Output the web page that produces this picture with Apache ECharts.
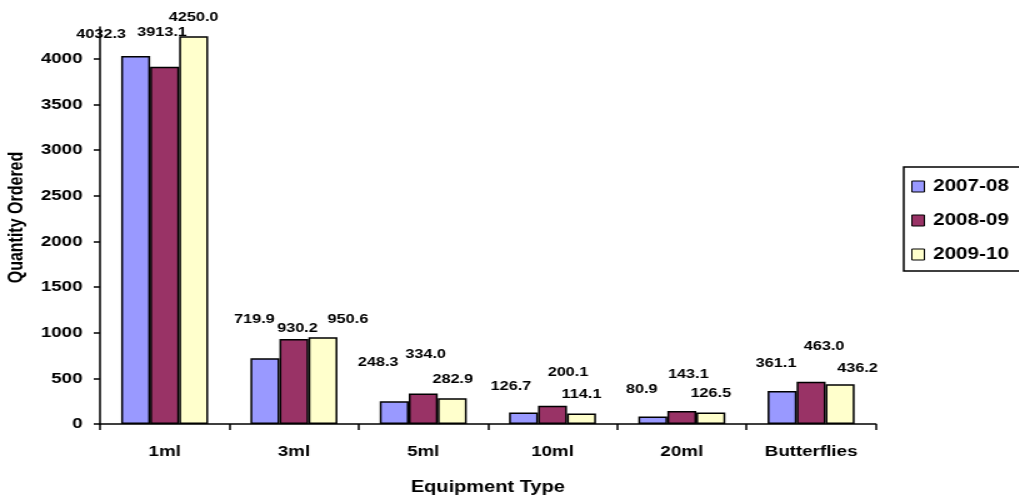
<!DOCTYPE html>
<html>
<head>
<meta charset="utf-8">
<script src="https://cdn.jsdelivr.net/npm/echarts@6/dist/echarts.min.js"></script>
<style>
  html, body { margin: 0; padding: 0; background: #fff; overflow: hidden; }
  /* chart is laid out narrower and widened, giving the broad lettering of the layout */
  #chart { width: 815.2px; height: 503px; transform: scaleX(1.25); transform-origin: 0 0; }
</style>
</head>
<body>
<div id="chart"></div>
<script>
// Equipment types on the category axis
const categories = ['1ml', '3ml', '5ml', '10ml', '20ml', 'Butterflies'];

// Quantity ordered per financial year
const seriesNames = ['2007-08', '2008-09', '2009-10'];
const values0708 = [4032.3, 719.9, 248.3, 126.7, 80.9, 361.1];
const values0809 = [3913.1, 930.2, 334.0, 200.1, 143.1, 463.0];
const values0910 = [4250.0, 950.6, 282.9, 114.1, 126.5, 436.2];

// Y axis tick values
const yTicks = [0, 500, 1000, 1500, 2000, 2500, 3000, 3500, 4000];

// Label placement: [horizontal shift, height above bar top] in px
const labelNudge0708 = [[-27.6, 22], [-8.4, 39], [-12.8, 39], [-10, 26], [-8.8, 27], [-4.8, 28]];
const labelNudge0809 = [[-2, 34], [2.8, 11], [2, 39], [12.4, 33], [5.2, 37], [10.4, 35]];
const labelNudge0910 = [[0, 19], [20, 18], [0.4, 19], [0, 19], [0, 19], [14, 16]];

const FONT = '"Liberation Sans", Arial, sans-serif';
const colors = ['#9999FF', '#993366', '#FFFFCC'];

function makeSeries(name, values, nudge, color) {
  return {
    name: name,
    type: 'bar',
    barWidth: 23.2,
    barGap: '0%',
    itemStyle: { color: color, borderColor: '#000', borderWidth: 1.5 },
    label: {
      show: true,
      position: 'top',
      distance: 0,
      align: 'center',
      verticalAlign: 'middle',
      fontFamily: FONT,
      fontWeight: 'bold',
      fontSize: 13,
      color: '#000',
      formatter: p => p.value.toFixed(1)
    },
    data: values.map((v, i) => ({
      value: v,
      label: { offset: [nudge[i][0], -nudge[i][1]] }
    }))
  };
}

const chart = echarts.init(document.getElementById('chart'), null, { renderer: 'canvas' });
chart.setOption({
  animation: false,
  backgroundColor: '#fff',
  textStyle: { fontFamily: FONT },
  grid: { left: 80, right: 114.4, top: 27, bottom: 79, containLabel: false, outerBoundsMode: 'none' },
  legend: {
    orient: 'vertical',
    left: 723,
    top: 167,
    data: seriesNames,
    itemWidth: 10,
    itemHeight: 11,
    itemGap: 15,
    padding: [10, 10, 7, 6],
    borderColor: '#000',
    borderWidth: 1.5,
    icon: 'rect',
    itemStyle: { borderColor: '#000', borderWidth: 1 },
    textStyle: { fontFamily: FONT, fontWeight: 'bold', fontSize: 16.5, color: '#000', lineHeight: 19, padding: [0, 0, 0, 2] }
  },
  xAxis: {
    type: 'category',
    data: categories,
    name: 'Equipment Type',
    nameLocation: 'middle',
    nameGap: 56,
    nameTextStyle: { fontFamily: FONT, fontWeight: 'bold', fontSize: 16, color: '#000' },
    axisLine: { lineStyle: { color: '#000', width: 1.5 } },
    axisTick: { show: true, length: 6, lineStyle: { color: '#000', width: 1.5 } },
    axisLabel: { margin: 20, fontFamily: FONT, fontWeight: 'bold', fontSize: 15, color: '#000' },
    splitLine: { show: false }
  },
  yAxis: {
    type: 'value',
    min: 0,
    max: 4350,
    name: 'Quantity Ordered',
    nameLocation: 'middle',
    nameGap: 56,
    nameTextStyle: { fontFamily: FONT, fontWeight: 'bold', fontSize: 16, color: '#000', padding: [0, 0, 0, 16] },
    axisLine: { show: true, lineStyle: { color: '#000', width: 1.5 } },
    axisTick: { show: true, length: 5, customValues: yTicks, lineStyle: { color: '#000', width: 1.5 } },
    axisLabel: {
      margin: 14, customValues: yTicks, fontFamily: FONT, fontWeight: 'bold', fontSize: 15, color: '#000',
      formatter: v => String(v)
    },
    splitLine: { show: false }
  },
  series: [
    makeSeries(seriesNames[0], values0708, labelNudge0708, colors[0]),
    makeSeries(seriesNames[1], values0809, labelNudge0809, colors[1]),
    makeSeries(seriesNames[2], values0910, labelNudge0910, colors[2])
  ]
});
</script>
</body>
</html>
